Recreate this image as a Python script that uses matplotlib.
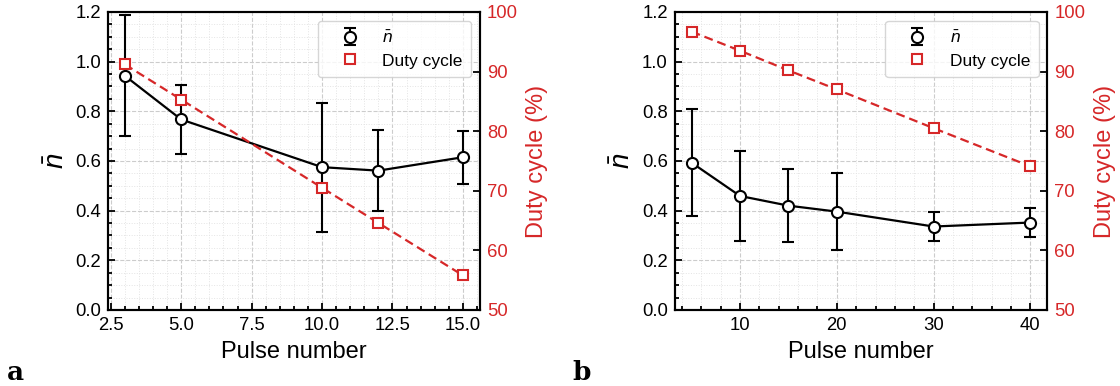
import matplotlib
matplotlib.use("Agg")
import matplotlib.pyplot as plt
from matplotlib.ticker import AutoMinorLocator, MultipleLocator, FormatStrFormatter

plt.rcParams['font.family'] = ['Liberation Sans', 'DejaVu Sans']
plt.rcParams['mathtext.fontset'] = 'custom'
plt.rcParams['mathtext.it'] = 'Liberation Sans:italic'
plt.rcParams['mathtext.rm'] = 'Liberation Sans'

# Panel a data
pulses_a = [3, 5, 10, 12, 15]
nbar_a = [0.943, 0.767, 0.575, 0.561, 0.615]
nbar_err_a = [0.244, 0.138, 0.260, 0.164, 0.107]
duty_a = [91.2, 85.3, 70.5, 64.6, 55.8]

# Panel b data
pulses_b = [5, 10, 15, 20, 30, 40]
nbar_b = [0.593, 0.459, 0.420, 0.396, 0.336, 0.352]
nbar_err_b = [0.215, 0.182, 0.148, 0.156, 0.060, 0.060]
duty_b = [96.7, 93.5, 90.2, 87.0, 80.5, 74.1]

RED = '#d62728'
TICK_FS = 13.3
LABEL_FS = 17

fig = plt.figure(figsize=(11.2, 3.86), dpi=100)
axes_pos = [[0.0964, 0.197, 0.332, 0.772], [0.6024, 0.197, 0.3327, 0.772]]


def draw(pos, x, n, nerr, duty, letter, letter_x, xstep, xfmt):
    ax = fig.add_axes(pos)
    ax.plot(x, n, '-', color='black', lw=1.6, zorder=2)
    eb = ax.errorbar(x, n, yerr=nerr, fmt='o', color='black', mfc='white', mec='black',
                     ms=8, mew=1.5, elinewidth=1.5, capsize=4.5, capthick=1.5,
                     zorder=3)
    ax.set_ylim(0, 1.2)
    ax.yaxis.set_major_locator(MultipleLocator(0.2))
    ax.xaxis.set_major_locator(MultipleLocator(xstep))
    ax.xaxis.set_major_formatter(FormatStrFormatter(xfmt))
    ax.xaxis.set_minor_locator(AutoMinorLocator())
    ax.yaxis.set_minor_locator(AutoMinorLocator())
    ax.grid(True, which='major', ls='--', color='#cccccc', lw=0.8)
    ax.grid(True, which='minor', ls=':', color='#e4e4e4', lw=0.7)
    ax.set_axisbelow(True)
    ax.tick_params(which='both', direction='in', top=False, right=False,
                   labelsize=TICK_FS, width=1.3, pad=5)
    ax.tick_params(which='major', length=5)
    ax.tick_params(which='minor', length=2.8)
    for s in ax.spines.values():
        s.set_linewidth(1.5)
    ax.set_xlabel('Pulse number', fontsize=LABEL_FS, labelpad=5)
    ax.set_ylabel(r'$\bar{n}$', fontsize=LABEL_FS + 3, labelpad=4)
    ax.yaxis.set_major_formatter(FormatStrFormatter('%.1f'))

    ax2 = ax.twinx()
    ax2.plot(x, duty, '--', color=RED, lw=1.6, dashes=(4, 2.2), zorder=2)
    sq, = ax2.plot(x, duty, 's', color=RED, mfc='white', mec=RED, ms=7.2, mew=1.5,
                   ls='none', zorder=3)
    ax2.set_ylim(50, 100)
    ax2.yaxis.set_major_locator(MultipleLocator(10))
    ax2.tick_params(axis='y', which='major', direction='in', length=5, width=1.3,
                    colors='black', labelcolor=RED, labelsize=TICK_FS, pad=5)
    ax2.tick_params(axis='y', which='minor', right=False)
    ax2.set_ylabel('Duty cycle (%)', color=RED, fontsize=LABEL_FS, labelpad=6)
    for s in ax2.spines.values():
        s.set_linewidth(1.5)
    leg = ax2.legend([eb, sq], [r'$\bar{n}$', 'Duty cycle'], loc='upper right',
                     fontsize=12.5, handlelength=2.7, handletextpad=0.5,
                     borderpad=0.5, labelspacing=0.45)
    leg.get_frame().set_edgecolor('#cccccc')
    fig.text(letter_x, 0.015, letter, fontsize=19, fontweight='bold',
             family='DejaVu Serif')
    return ax, ax2


draw(axes_pos[0], pulses_a, nbar_a, nbar_err_a, duty_a, 'a', 0.006, 2.5, '%.1f')
draw(axes_pos[1], pulses_b, nbar_b, nbar_err_b, duty_b, 'b', 0.511, 10, '%d')

fig.savefig('out.png', dpi=100)
